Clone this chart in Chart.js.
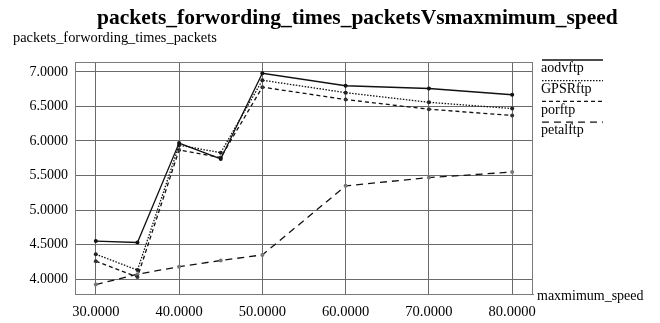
<!DOCTYPE html>
<html>
<head>
<meta charset="utf-8">
<script src="https://cdn.jsdelivr.net/npm/chart.js@4/dist/chart.umd.min.js"></script>
<style>
  html, body { margin: 0; padding: 0; background: #fff; }
  #wrap { width: 660px; height: 323px; }
</style>
</head>
<body>
<div id="wrap"><canvas id="c" width="660" height="323"></canvas></div>
<script>
// Maximum speed values (x axis)
const speeds = [30, 35, 40, 45, 50, 60, 70, 80];

// Packets forwarding times per protocol
const aodvftp  = [4.55, 4.53, 5.97, 5.74, 6.98, 6.80, 6.76, 6.67];
const gpsrftp  = [4.36, 4.13, 5.94, 5.83, 6.88, 6.70, 6.56, 6.47];
const porftp   = [4.26, 4.03, 5.87, 5.76, 6.78, 6.60, 6.46, 6.37];
const petalftp = [3.92, 4.07, 4.18, 4.27, 4.35, 5.35, 5.47, 5.55];

// Tick positions
const xTicks = [30, 40, 50, 60, 70, 80];
const yTicks = [4.0, 4.5, 5.0, 5.5, 6.0, 6.5, 7.0];

const titleText = 'packets_forwording_times_packetsVsmaxmimum_speed';
const yTitleText = 'packets_forwording_times_packets';
const xTitleText = 'maxmimum_speed';

const serif = '"Liberation Serif", "Times New Roman", serif';

function series(label, values, dash, pointColor) {
  return {
    label: label,
    data: speeds.map((s, i) => ({ x: s, y: values[i] })),
    borderColor: '#111',
    borderWidth: 1.3,
    borderDash: dash,
    pointRadius: 2,
    pointBackgroundColor: pointColor,
    pointBorderColor: pointColor,
    pointBorderWidth: 0,
    tension: 0,
    fill: false
  };
}

const decorations = {
  id: 'decorations',
  afterDraw(chart) {
    const ctx = chart.ctx;
    const a = chart.chartArea;
    ctx.save();
    // frame around plot area
    ctx.strokeStyle = '#7a7a7a';
    ctx.lineWidth = 1;
    ctx.strokeRect(a.left + 0.5, a.top + 0.5, a.right - a.left - 1, a.bottom - a.top);

    ctx.fillStyle = '#000';
    // main title
    ctx.font = 'bold 21.5px ' + serif;
    ctx.textAlign = 'left';
    ctx.textBaseline = 'alphabetic';
    ctx.fillText(titleText, 97, 23.5);
    // y axis title
    ctx.font = '14.4px ' + serif;
    ctx.fillText(yTitleText, 13, 42);
    // x axis title
    ctx.font = '14px ' + serif;
    ctx.textBaseline = 'middle';
    ctx.fillText(xTitleText, 537, 296);

    // legend: line sample above each label
    const lx0 = 542, lx1 = 603;
    chart.data.datasets.forEach((ds, i) => {
      const ly = 60 + i * 20.7;
      ctx.beginPath();
      ctx.setLineDash(ds.borderDash || []);
      ctx.strokeStyle = '#111';
      ctx.lineWidth = 1.3;
      ctx.moveTo(lx0, ly);
      ctx.lineTo(lx1, ly);
      ctx.stroke();
      ctx.setLineDash([]);
      ctx.font = '14px ' + serif;
      ctx.textBaseline = 'middle';
      ctx.fillStyle = '#000';
      ctx.fillText(ds.label, 541, ly + 8.5);
    });
    ctx.restore();
  }
};

new Chart(document.getElementById('c'), {
  type: 'line',
  data: {
    datasets: [
      series('aodvftp', aodvftp, [], '#111'),
      series('GPSRftp', gpsrftp, [1.5, 1.5], '#222'),
      series('porftp', porftp, [4, 3], '#333'),
      series('petalftp', petalftp, [7, 5], '#777')
    ]
  },
  options: {
    responsive: false,
    animation: false,
    layout: { padding: { top: 62, right: 127, left: 0, bottom: 0 } },
    plugins: {
      legend: { display: false },
      title: { display: false },
      tooltip: { enabled: false }
    },
    scales: {
      x: {
        type: 'linear',
        min: 27.5,
        max: 82.5,
        afterBuildTicks(scale) { scale.ticks = xTicks.map(v => ({ value: v })); },
        afterFit(scale) { scale.height = 29; },
        grid: { color: '#6a6a6a', lineWidth: 1, drawTicks: false },
        border: { color: '#7a7a7a' },
        ticks: {
          color: '#000',
          font: { family: serif, size: 14.5 },
          padding: 9,
          maxRotation: 0,
          autoSkip: false,
          callback: v => Number(v).toFixed(4)
        }
      },
      y: {
        type: 'linear',
        min: 3.784,
        max: 7.144,
        afterBuildTicks(scale) { scale.ticks = yTicks.map(v => ({ value: v })); },
        afterFit(scale) { scale.width = 75; },
        grid: { color: '#6a6a6a', lineWidth: 1, drawTicks: false },
        border: { color: '#7a7a7a' },
        ticks: {
          color: '#000',
          font: { family: serif, size: 14 },
          padding: 7,
          autoSkip: false,
          callback: v => Number(v).toFixed(4)
        }
      }
    }
  },
  plugins: [decorations]
});
</script>
</body>
</html>
